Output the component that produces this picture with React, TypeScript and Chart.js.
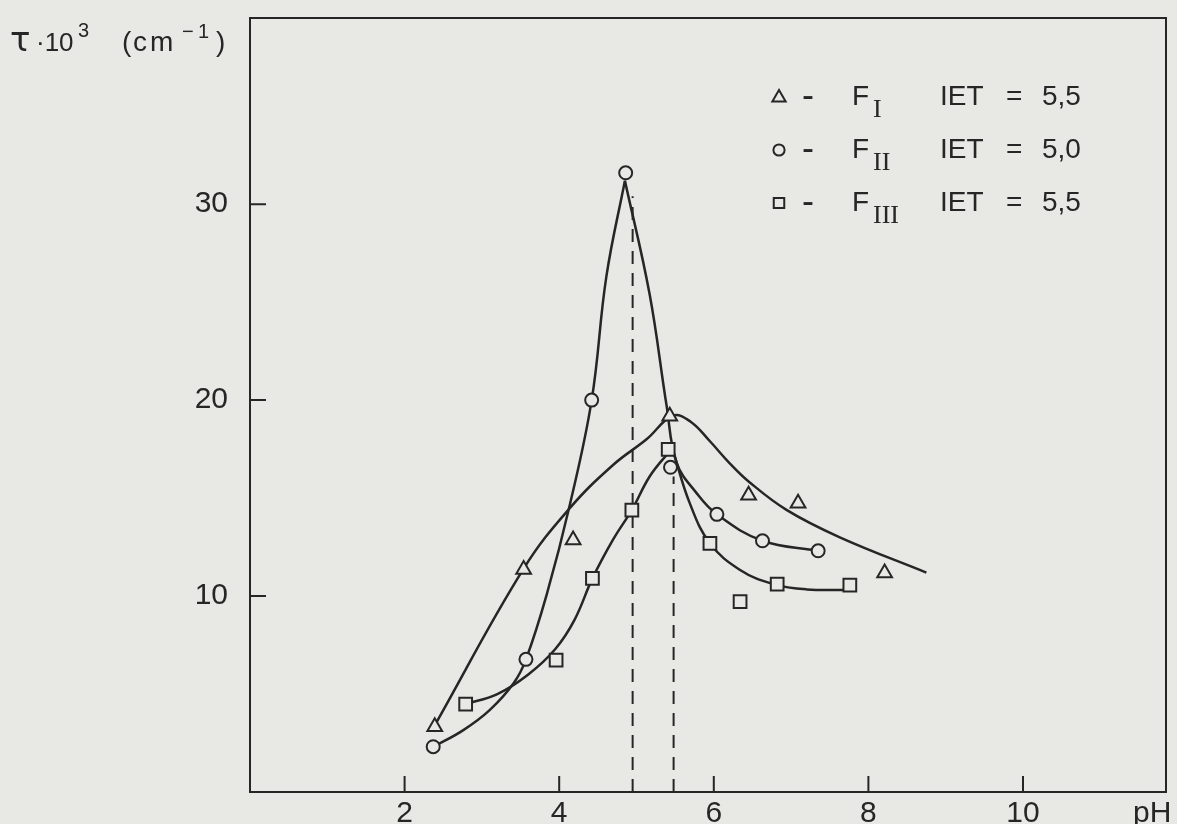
import React, { useEffect, useRef } from 'react';
import { Chart, registerables } from 'chart.js';

Chart.register(...registerables);

// ---- axis ticks ----
const xTicks = [2, 4, 6, 8, 10];
const yTicks = [10, 20, 30];

// ---- measured points (pH, tau*10^3) ----
const f1PH = [2.39, 3.54, 4.18, 5.43, 6.45, 7.09, 8.21];
const f1Tau = [3.33, 11.36, 12.86, 19.18, 15.15, 14.73, 11.17];
const f2PH = [2.37, 3.57, 4.42, 4.86, 5.44, 6.04, 6.63, 7.35];
const f2Tau = [2.31, 6.77, 20.0, 31.6, 16.57, 14.17, 12.82, 12.31];
const f3PH = [2.79, 3.96, 4.43, 4.94, 5.41, 5.95, 6.34, 6.82, 7.76];
const f3Tau = [4.49, 6.73, 10.9, 14.39, 17.48, 12.69, 9.71, 10.61, 10.56];

// ---- hand-drawn curves ----
const f1CurvePH = [2.39, 3.54, 4.14, 4.7, 5.13, 5.47, 5.7, 5.95, 6.2, 6.45, 6.94, 7.63, 8.75];
const f1CurveTau = [3.4, 11.4, 14.5, 16.7, 18.0, 19.2, 18.9, 17.9, 16.8, 15.85, 14.4, 13.0, 11.2];
const f2LeftPH = [2.37, 2.76, 3.1, 3.41, 3.57, 3.84, 4.14, 4.42, 4.61, 4.85];
const f2LeftTau = [2.3, 3.16, 4.18, 5.55, 6.77, 10.1, 14.7, 20.0, 26.3, 31.2];
const f2RightPH = [4.85, 5.17, 5.39, 5.52, 5.78, 6.04, 6.63, 7.35];
const f2RightTau = [31.2, 25.4, 19.7, 16.8, 15.24, 14.17, 12.82, 12.31];
const f3LeftPH = [2.79, 3.2, 3.6, 3.95, 4.2, 4.43, 4.7, 4.94, 5.17, 5.39, 5.47];
const f3LeftTau = [4.49, 5.0, 6.0, 7.3, 8.8, 10.9, 12.9, 14.4, 16.1, 17.2, 17.45];
const f3RightPH = [5.47, 5.69, 5.95, 6.34, 6.77, 7.2, 7.76];
const f3RightTau = [17.45, 14.73, 12.69, 11.33, 10.61, 10.34, 10.31];

// ---- IET marker lines ----
const ietPH = [4.95, 5.48];
const ietTop = [30.4, 16.1];

// ---- legend ----
const legendSymbols = ['triangle', 'circle', 'rect'];
const legendSubs = ['I', 'II', 'III'];
const legendIET = ['5,5', '5,0', '5,5'];

const INK = '#262626';
const PAPER = '#e8e9e4';

const zip = (xs: number[], ys: number[]) => xs.map((x, i) => ({ x, y: ys[i] }));

function drawSymbol(ctx: CanvasRenderingContext2D, kind: string, cx: number, cy: number, r: number) {
  ctx.beginPath();
  if (kind === 'triangle') {
    ctx.moveTo(cx, cy - r);
    ctx.lineTo(cx + r * 0.95, cy + r * 0.65);
    ctx.lineTo(cx - r * 0.95, cy + r * 0.65);
    ctx.closePath();
  } else if (kind === 'circle') {
    ctx.arc(cx, cy, r * 0.8, 0, Math.PI * 2);
  } else {
    ctx.rect(cx - r * 0.75, cy - r * 0.7, r * 1.5, r * 1.4);
  }
  ctx.stroke();
}

const decorPlugin = {
  id: 'decor',
  beforeDraw(chart: any) {
    const { ctx, width, height } = chart;
    ctx.save();
    ctx.fillStyle = PAPER;
    ctx.fillRect(0, 0, width, height);
    ctx.restore();
  },
  afterDraw(chart: any) {
    const { ctx, chartArea } = chart;
    const xs = chart.scales.x;
    const ys = chart.scales.y;
    ctx.save();
    ctx.strokeStyle = INK;
    ctx.lineWidth = 2;
    // frame top & right
    ctx.beginPath();
    ctx.moveTo(chartArea.left, chartArea.top);
    ctx.lineTo(chartArea.right, chartArea.top);
    ctx.lineTo(chartArea.right, chartArea.bottom);
    ctx.stroke();
    // inner tick marks
    ctx.beginPath();
    xTicks.forEach((v) => {
      const px = xs.getPixelForValue(v);
      ctx.moveTo(px, chartArea.bottom);
      ctx.lineTo(px, chartArea.bottom - 16);
    });
    yTicks.forEach((v) => {
      const py = ys.getPixelForValue(v);
      ctx.moveTo(chartArea.left, py);
      ctx.lineTo(chartArea.left + 16, py);
    });
    ctx.stroke();

    ctx.fillStyle = INK;
    ctx.textBaseline = 'alphabetic';
    ctx.textAlign = 'left';
    // pH label
    ctx.font = '30px "Liberation Sans"';
    ctx.fillText('pH', 1133, 822);

    // y-axis title  τ·10³ (cm⁻¹)
    ctx.font = '34px "DejaVu Sans"';
    ctx.fillText('τ', 10, 51);
    ctx.font = '26px "Liberation Sans"';
    ctx.fillText('·10', 36, 51);
    ctx.font = '20px "Liberation Sans"';
    ctx.fillText('3', 78, 37);
    ctx.font = '28px "Liberation Sans"';
    ctx.fillText('(', 122, 51);
    (ctx as any).letterSpacing = '3px';
    ctx.fillText('cm', 133, 51);
    (ctx as any).letterSpacing = '0px';
    ctx.font = '20px "Liberation Sans"';
    ctx.fillText('−', 182, 38);
    ctx.fillText('1', 198, 38);
    ctx.font = '28px "Liberation Sans"';
    ctx.fillText(')', 216, 51);

    // legend
    const baselines = [105, 158, 211];
    legendSymbols.forEach((kind, i) => {
      const b = baselines[i];
      ctx.lineWidth = 2;
      drawSymbol(ctx, kind, 779, b - 8, 7);
      ctx.font = '36px "Liberation Sans"';
      ctx.fillText('-', 802, b + 2);
      ctx.font = '28px "Liberation Sans"';
      ctx.fillText('F', 852, b);
      ctx.font = '26px "Liberation Serif"';
      ctx.fillText(legendSubs[i], 873, b + 12);
      ctx.font = '28px "Liberation Sans"';
      ctx.fillText('IET', 940, b);
      ctx.fillText('=', 1006, b);
      ctx.fillText(legendIET[i], 1042, b);
    });
    ctx.restore();
  },
};

export default function App() {
  const ref = useRef<HTMLCanvasElement | null>(null);

  useEffect(() => {
    document.body.style.margin = '0';
    document.body.style.background = PAPER;
    const canvas = ref.current;
    if (!canvas) return;

    const pointDs = (label: string, xs: number[], ys: number[], style: string, r: number) => ({
      label,
      data: zip(xs, ys),
      showLine: false,
      pointStyle: style,
      pointRadius: r,
      pointBorderWidth: 2,
      pointBorderColor: INK,
      pointBackgroundColor: PAPER,
    });
    const curveDs = (label: string, xs: number[], ys: number[]) => ({
      label,
      data: zip(xs, ys),
      showLine: true,
      borderColor: INK,
      borderWidth: 2.5,
      pointRadius: 0,
      tension: 0.4,
      fill: false,
    });
    const dashDs = (i: number) => ({
      label: 'IET ' + i,
      data: [{ x: ietPH[i], y: 0 }, { x: ietPH[i], y: ietTop[i] }],
      showLine: true,
      borderColor: INK,
      borderWidth: 2,
      borderDash: [13, 9],
      pointRadius: 0,
      tension: 0,
    });

    const chart = new Chart(canvas, {
      type: 'scatter',
      data: {
        datasets: [
          pointDs('F I', f1PH, f1Tau, 'triangle', 8.5),
          pointDs('F II', f2PH, f2Tau, 'circle', 6.5),
          pointDs('F III', f3PH, f3Tau, 'rect', 9),
          curveDs('F I curve', f1CurvePH, f1CurveTau),
          curveDs('F II curve L', f2LeftPH, f2LeftTau),
          curveDs('F II curve R', f2RightPH, f2RightTau),
          curveDs('F III curve L', f3LeftPH, f3LeftTau),
          curveDs('F III curve R', f3RightPH, f3RightTau),
          dashDs(0),
          dashDs(1),
        ] as any,
      },
      options: {
        animation: false,
        responsive: false,
        devicePixelRatio: 1,
        layout: { padding: { top: 18, right: 3, left: 0, bottom: 0 } },
        plugins: { legend: { display: false }, tooltip: { enabled: false } },
        scales: {
          x: {
            type: 'linear',
            min: 0,
            max: 11.85,
            grid: { display: false },
            border: { display: true, color: INK, width: 2 },
            ticks: {
              color: INK,
              font: { family: 'Liberation Sans', size: 30 },
              padding: -4,
              maxRotation: 0,
              autoSkip: false,
            },
            afterBuildTicks: (s: any) => {
              s.ticks = xTicks.map((v) => ({ value: v }));
            },
            afterFit: (s: any) => {
              s.height = 32;
              s.paddingLeft = 0;
              s.paddingRight = 0;
            },
          },
          y: {
            type: 'linear',
            min: 0,
            max: 39.5,
            grid: { display: false },
            border: { display: true, color: INK, width: 2 },
            ticks: {
              color: INK,
              font: { family: 'Liberation Sans', size: 30 },
              padding: 14,
              autoSkip: false,
            },
            afterBuildTicks: (s: any) => {
              s.ticks = yTicks.map((v) => ({ value: v }));
            },
            afterFit: (s: any) => {
              s.width = 250;
              s.paddingTop = 0;
              s.paddingBottom = 0;
            },
          },
        },
      } as any,
      plugins: [decorPlugin],
    });
    return () => chart.destroy();
  }, []);

  return (
    <div style={{ width: 1177, height: 824, background: PAPER }}>
      <canvas ref={ref} width={1177} height={824} style={{ display: 'block' }} />
    </div>
  );
}
